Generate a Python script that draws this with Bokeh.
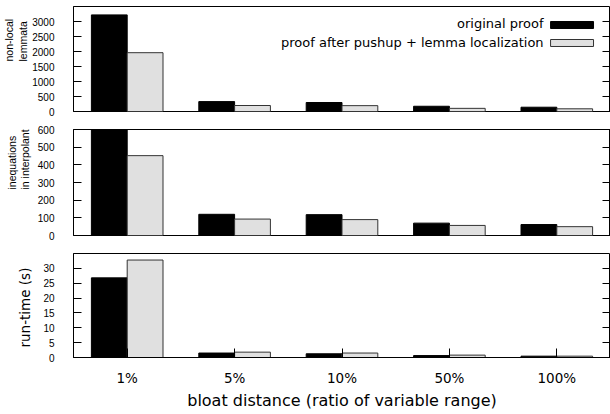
from bokeh.plotting import figure
from bokeh.models import (ColumnDataSource, Range1d, FixedTicker, LinearAxis, Label,
                          BoxAnnotation, Title)
from bokeh.transform import dodge
from bokeh.layouts import column
from bokeh.embed import file_html
from bokeh.resources import INLINE

# ---------------- data ----------------
categories = ["1%", "5%", "10%", "50%", "100%"]
idx = [0, 1, 2, 3, 4]

lemmata_original = [3220, 330, 300, 175, 143]
lemmata_after = [1960, 200, 195, 105, 90]

ineq_original = [600, 120, 118, 70, 62]
ineq_after = [452, 93, 90, 57, 50]

runtime_original = [26.8, 1.5, 1.25, 0.65, 0.45]
runtime_after = [32.8, 1.8, 1.5, 0.8, 0.45]

ticks_lemmata = [0, 500, 1000, 1500, 2000, 2500, 3000]
ticks_ineq = [0, 100, 200, 300, 400, 500, 600]
ticks_runtime = [0, 5, 10, 15, 20, 25, 30]

series_names = ["original proof", "proof after pushup + lemma localization"]
ylabels = ["non-local\nlemmata", "inequations\nin interpolant", "run-time (s)"]
xlabel = "bloat distance (ratio of variable range)"

# ---------------- style ----------------
BLACK = "#000000"
GRAY = "#e0e0e0"
BW = 1.0 / 3.0
SANS = "Liberation Sans"
W = 610
LEFT = 72


def make_panel(orig, after, yend, ticks, height, top, bottom, ylab,
               ylab_font, ylab_size, ylab_offset, ylab_standoff, show_x):
    src = ColumnDataSource(dict(idx=idx, cat=categories, orig=orig, after=after))
    p = figure(width=W, height=height, output_backend="svg", toolbar_location=None,
               x_range=Range1d(-0.5, 4.5), y_range=Range1d(0, yend),
               min_border_left=LEFT, min_border_right=0,
               min_border_top=top, min_border_bottom=bottom,
               x_axis_location=None, y_axis_location=None)
    p.grid.visible = False
    p.outline_line_color = "black"
    p.outline_line_width = 1
    p.outline_line_alpha = 1
    p.background_fill_color = "white"
    p.border_fill_color = "white"

    p.vbar(x=dodge("idx", -BW / 2, range=p.x_range), top="orig", width=BW,
           source=src, fill_color=BLACK, line_color=BLACK, line_width=1)
    p.vbar(x=dodge("idx", BW / 2, range=p.x_range), top="after", width=BW,
           source=src, fill_color=GRAY, line_color="#333333", line_width=1)

    # left axis
    la = LinearAxis(ticker=FixedTicker(ticks=ticks))
    la.major_tick_in = 8
    la.major_tick_out = 0
    la.minor_tick_line_color = None
    la.major_label_standoff = 19
    la.major_label_text_font = SANS
    la.major_label_text_font_size = "10px"
    la.major_label_text_color = "black"
    la.axis_line_color = "black"
    p.add_layout(la, "left")

    # y axis title (gnuplot style, rotated)
    t = Title(text=ylab, align="left", vertical_align="bottom",
              offset=ylab_offset, standoff=ylab_standoff,
              text_font=ylab_font, text_font_size=ylab_size,
              text_font_style="normal", text_color="black",
              text_line_height=1.15)
    p.add_layout(t, "left")

    # right mirrored ticks (no labels)
    ra = LinearAxis(ticker=FixedTicker(ticks=ticks))
    ra.major_tick_in = 8
    ra.major_tick_out = 0
    ra.minor_tick_line_color = None
    ra.major_label_overrides = {v: "" for v in ticks}
    ra.major_label_text_color = None
    ra.major_label_standoff = 0
    ra.axis_line_color = "black"
    p.add_layout(ra, "right")

    if show_x:
        xa = LinearAxis(ticker=FixedTicker(ticks=idx))
        xa.major_label_overrides = {i: c for i, c in zip(idx, categories)}
        xa.major_tick_in = 9
        xa.major_tick_out = 0
        xa.minor_tick_line_color = None
        xa.major_label_standoff = 12
        xa.major_label_text_font = "DejaVu Sans"
        xa.major_label_text_font_size = "13.5px"
        xa.major_label_text_color = "black"
        xa.axis_label = xlabel
        xa.axis_label_text_font = "DejaVu Sans"
        xa.axis_label_text_font_size = "16px"
        xa.axis_label_text_font_style = "normal"
        xa.axis_label_text_color = "black"
        xa.axis_label_standoff = 2
        xa.axis_line_color = "black"
        p.add_layout(xa, "below")
    return p


p1 = make_panel(lemmata_original, lemmata_after, 3500, ticks_lemmata,
                120, 6, 9, ylabels[0], SANS, "10.5px", 50, 1, False)
p2 = make_panel(ineq_original, ineq_after, 600, ticks_ineq,
                124, 9, 9, ylabels[1], SANS, "10.5px", 46, 6, False)
p3 = make_panel(runtime_original, runtime_after, 35, ticks_runtime,
                168, 9, 55, ylabels[2], "DejaVu Sans", "13.5px", 10, 15, True)

# legend (gnuplot style: text left of swatch)
p1.add_layout(Label(x=3.877, y=2933, text=series_names[0], text_align="right",
                    text_baseline="middle", text_font="DejaVu Sans",
                    text_font_size="13px", text_color="black"))
p1.add_layout(Label(x=3.877, y=2300, text=series_names[1], text_align="right",
                    text_baseline="middle", text_font="DejaVu Sans",
                    text_font_size="13px", text_color="black"))
p1.add_layout(BoxAnnotation(left=3.942, right=4.342, bottom=2767, top=3000,
                            fill_color=BLACK, fill_alpha=1, line_color=BLACK,
                            line_width=1, line_alpha=1))
p1.add_layout(BoxAnnotation(left=3.942, right=4.342, bottom=2167, top=2400,
                            fill_color=GRAY, fill_alpha=1, line_color="#333333",
                            line_width=1, line_alpha=1))

layout = column(p1, p2, p3, spacing=0)
open("out.html", "w").write(file_html(layout, INLINE))
